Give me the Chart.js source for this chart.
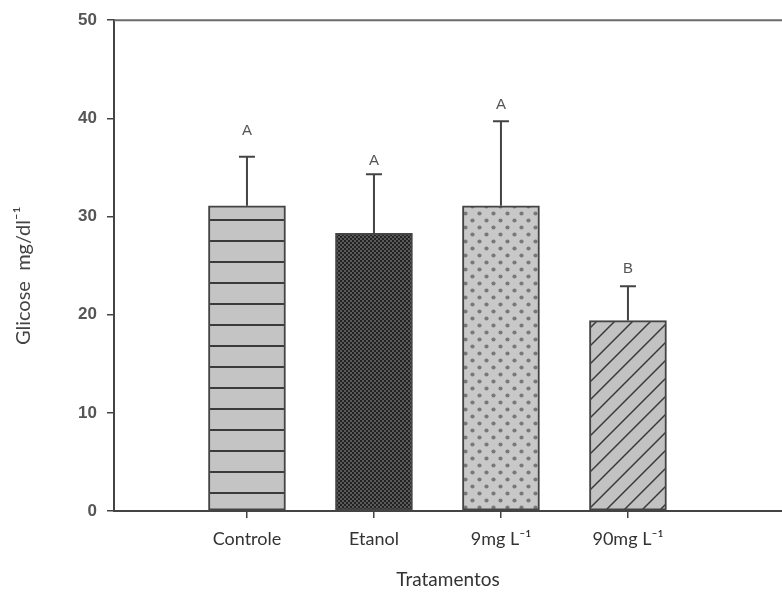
<!DOCTYPE html>
<html>
<head>
<meta charset="utf-8">
<script src="https://cdnjs.cloudflare.com/ajax/libs/Chart.js/4.4.1/chart.umd.min.js"></script>
<style>
  html, body { margin: 0; padding: 0; background: #fff; }
  #wrap { width: 782px; height: 592px; }
</style>
</head>
<body>
<div id="wrap"><canvas id="chart"></canvas></div>
<script>
const categories = ['Controle', 'Etanol', '9mg L\u207B\u00B9', '90mg L\u207B\u00B9'];
const means = [31.1, 28.3, 31.1, 19.4];
const errors = [5.0, 6.0, 8.6, 3.5];
const letters = ['A', 'A', 'A', 'B'];
const letterAt = [38.7, 35.7, 41.4, 24.7];
const yTicks = [0, 10, 20, 30, 40, 50];

// fill patterns, one per treatment
function makePattern(w, h, draw) {
  const c = document.createElement('canvas');
  c.width = w; c.height = h;
  const g = c.getContext('2d');
  draw(g, w, h);
  return g.createPattern(c, 'repeat');
}

const ctx = document.getElementById('chart').getContext('2d');

const stripes = makePattern(10, 21, (g, w, h) => {
  g.fillStyle = '#c4c4c4'; g.fillRect(0, 0, w, h);
  g.fillStyle = '#3a3a3a'; g.fillRect(0, 9, w, 2);
});
const checker = makePattern(4, 4, (g, w, h) => {
  g.fillStyle = '#5a5a5a'; g.fillRect(0, 0, w, h);
  g.fillStyle = '#222';
  g.fillRect(0, 0, 2, 2); g.fillRect(2, 2, 2, 2);
});
const dots = makePattern(14, 14, (g, w, h) => {
  g.fillStyle = '#c8c8c8'; g.fillRect(0, 0, w, h);
  g.fillStyle = '#787878';
  [[3.5, 3.5], [10.5, 10.5]].forEach(([x, y]) => {
    g.beginPath(); g.arc(x, y, 2.1, 0, Math.PI * 2); g.fill();
  });
});
const hatch = makePattern(18, 18, (g, w, h) => {
  g.fillStyle = '#c2c2c2'; g.fillRect(0, 0, w, h);
  g.strokeStyle = '#3a3a3a'; g.lineWidth = 1.5;
  g.beginPath();
  g.moveTo(-2, h + 2); g.lineTo(w + 2, -2);
  g.moveTo(-2, 2); g.lineTo(2, -2);
  g.moveTo(w - 2, h + 2); g.lineTo(w + 2, h - 2);
  g.stroke();
});

// error bars + significance letters
const errorBars = {
  id: 'errorBars',
  afterDatasetsDraw(chart) {
    const { ctx, scales: { x, y } } = chart;
    ctx.save();
    ctx.strokeStyle = '#444';
    ctx.lineWidth = 2;
    ctx.fillStyle = '#555';
    ctx.font = '15px "Liberation Sans", Arial, sans-serif';
    ctx.textAlign = 'center';
    ctx.textBaseline = 'middle';
    means.forEach((m, i) => {
      const px = x.getPixelForValue(i + 1);
      const yBar = y.getPixelForValue(m);
      const yTop = y.getPixelForValue(m + errors[i]);
      ctx.beginPath();
      ctx.moveTo(px, yBar); ctx.lineTo(px, yTop);
      ctx.moveTo(px - 8, yTop); ctx.lineTo(px + 8, yTop);
      ctx.stroke();
      ctx.fillText(letters[i], px, y.getPixelForValue(letterAt[i]));
    });
    ctx.restore();
  }
};

// top frame line
const topLine = {
  id: 'topLine',
  afterDraw(chart) {
    const { ctx, chartArea: a } = chart;
    ctx.save();
    ctx.strokeStyle = '#6a6a6a';
    ctx.lineWidth = 2;
    ctx.beginPath();
    ctx.moveTo(a.left, a.top); ctx.lineTo(a.right, a.top);
    ctx.stroke();
    ctx.restore();
  }
};

new Chart(ctx, {
  type: 'bar',
  data: {
    datasets: [{
      data: categories.map((c, i) => ({ x: i + 1, y: means[i] })),
      backgroundColor: [stripes, checker, dots, hatch],
      borderColor: '#444',
      borderWidth: 2,
      borderSkipped: false,
      barThickness: 77
    }]
  },
  options: {
    responsive: true,
    maintainAspectRatio: false,
    animation: false,
    layout: { padding: { top: 20, right: 0, left: 0, bottom: 0 } },
    plugins: { legend: { display: false }, tooltip: { enabled: false } },
    scales: {
      x: {
        type: 'linear',
        offset: false,
        min: -0.047,
        max: 5.213,
        afterFit: s => { s.height = 81; },
        afterBuildTicks: s => { s.ticks = categories.map((c, i) => ({ value: i + 1 })); },
        grid: { offset: false, drawOnChartArea: false, drawTicks: true, tickLength: 7, color: '#444', lineWidth: 1.5 },
        border: { color: '#444', width: 2 },
        ticks: {
          callback: v => categories[v - 1],
          autoSkip: false,
          maxRotation: 0,
          padding: 10,
          color: '#333',
          font: { family: 'Lato, "Open Sans", sans-serif', size: 18 }
        },
        title: {
          display: true,
          text: 'Tratamentos',
          color: '#333',
          padding: { top: 0, bottom: 1 },
          font: { family: 'Lato, "Open Sans", sans-serif', size: 19 }
        }
      },
      y: {
        min: 0,
        max: 50,
        afterFit: s => { s.width = 114; },
        afterBuildTicks: s => { s.ticks = yTicks.map(v => ({ value: v })); },
        grid: { drawOnChartArea: false, drawTicks: true, tickLength: 7, color: '#444', lineWidth: 1.5 },
        border: { color: '#444', width: 2 },
        ticks: {
          padding: 10,
          color: '#555',
          font: { family: '"Liberation Sans", Arial, sans-serif', size: 17, weight: 'bold' }
        },
        title: {
          display: true,
          text: 'Glicose  mg/dl\u207B\u00B9    ',
          color: '#444',
          padding: { top: 12, bottom: 0 },
          font: { family: 'Lato, "Open Sans", sans-serif', size: 20 }
        }
      }
    }
  },
  plugins: [errorBars, topLine]
});
</script>
</body>
</html>
